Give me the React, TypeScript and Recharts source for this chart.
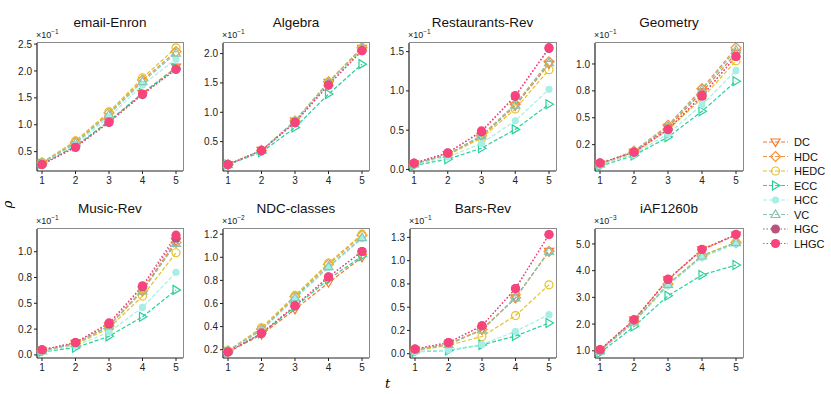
import React from "react";
import { LineChart, Line, XAxis, YAxis } from "recharts";

const steps = [1, 2, 3, 4, 5];
const seriesNames = ["DC", "HDC", "HEDC", "ECC", "HCC", "VC", "HGC", "LHGC"];

// values per series (rows in seriesNames order), already scaled by the panel's exponent
const emailEnron = [
  [0.28, 0.6, 1.06, 1.58, 2.07],
  [0.29, 0.68, 1.22, 1.83, 2.36],
  [0.3, 0.7, 1.24, 1.87, 2.43],
  [0.27, 0.6, 1.07, 1.59, 2.05],
  [0.28, 0.64, 1.14, 1.74, 2.22],
  [0.29, 0.66, 1.19, 1.8, 2.33],
  [0.26, 0.58, 1.04, 1.56, 2.03],
  [0.26, 0.58, 1.05, 1.57, 2.03],
];
const algebra = [
  [0.11, 0.35, 0.85, 1.51, 2.09],
  [0.11, 0.35, 0.85, 1.52, 2.1],
  [0.11, 0.35, 0.85, 1.51, 2.09],
  [0.11, 0.32, 0.74, 1.31, 1.82],
  [0.11, 0.34, 0.83, 1.48, 2.06],
  [0.11, 0.35, 0.85, 1.51, 2.1],
  [0.11, 0.35, 0.83, 1.47, 2.05],
  [0.11, 0.35, 0.82, 1.46, 2.05],
];
const restaurantsRev = [
  [0.07, 0.19, 0.42, 0.81, 1.34],
  [0.07, 0.19, 0.43, 0.83, 1.37],
  [0.07, 0.18, 0.4, 0.77, 1.27],
  [0.05, 0.13, 0.27, 0.51, 0.83],
  [0.06, 0.16, 0.33, 0.62, 1.02],
  [0.07, 0.19, 0.43, 0.82, 1.36],
  [0.08, 0.21, 0.48, 0.93, 1.54],
  [0.08, 0.21, 0.49, 0.94, 1.55],
];
const geometry = [
  [0.07, 0.18, 0.41, 0.74, 1.1],
  [0.07, 0.19, 0.43, 0.77, 1.15],
  [0.07, 0.17, 0.39, 0.68, 1.03],
  [0.05, 0.15, 0.32, 0.56, 0.84],
  [0.06, 0.16, 0.35, 0.62, 0.94],
  [0.07, 0.19, 0.42, 0.76, 1.13],
  [0.08, 0.18, 0.39, 0.7, 1.07],
  [0.08, 0.18, 0.39, 0.71, 1.07],
];
const musicRev = [
  [0.04, 0.11, 0.28, 0.63, 1.1],
  [0.04, 0.11, 0.28, 0.62, 1.09],
  [0.04, 0.1, 0.26, 0.57, 0.99],
  [0.03, 0.07, 0.18, 0.37, 0.63],
  [0.03, 0.09, 0.22, 0.46, 0.8],
  [0.04, 0.11, 0.28, 0.62, 1.08],
  [0.05, 0.12, 0.3, 0.66, 1.13],
  [0.05, 0.12, 0.31, 0.67, 1.16],
];
const ndcClasses = [
  [0.18, 0.33, 0.55, 0.78, 1.0],
  [0.19, 0.38, 0.66, 0.94, 1.19],
  [0.19, 0.39, 0.67, 0.95, 1.2],
  [0.18, 0.34, 0.57, 0.81, 1.01],
  [0.18, 0.37, 0.64, 0.91, 1.16],
  [0.19, 0.37, 0.65, 0.92, 1.17],
  [0.18, 0.34, 0.58, 0.83, 1.05],
  [0.18, 0.345, 0.58, 0.83, 1.05],
];
const barsRev = [
  [0.04, 0.1, 0.26, 0.6, 1.1],
  [0.04, 0.105, 0.26, 0.6, 1.1],
  [0.03, 0.09, 0.185, 0.41, 0.74],
  [0.02, 0.035, 0.095, 0.19, 0.33],
  [0.02, 0.04, 0.1, 0.24, 0.42],
  [0.04, 0.1, 0.255, 0.6, 1.1],
  [0.05, 0.12, 0.3, 0.7, 1.28],
  [0.05, 0.12, 0.3, 0.7, 1.28],
];
const iaf1260b = [
  [1.03, 2.15, 3.66, 4.78, 5.33],
  [1.02, 2.1, 3.5, 4.55, 5.05],
  [1.02, 2.1, 3.49, 4.57, 5.06],
  [0.92, 1.91, 3.06, 3.84, 4.21],
  [0.98, 2.05, 3.45, 4.5, 5.0],
  [1.0, 2.08, 3.49, 4.55, 5.05],
  [1.04, 2.16, 3.67, 4.79, 5.35],
  [1.04, 2.16, 3.68, 4.8, 5.36],
];

const enronTicks = [0.5, 1.0, 1.5, 2.0, 2.5];
const enronLabels = ["0.5", "1.0", "1.5", "2.0", "2.5"];
const algebraTicks = [0.5, 1.0, 1.5, 2.0];
const algebraLabels = ["0.5", "1.0", "1.5", "2.0"];
const restaurantsTicks = [0, 0.5, 1.0, 1.5];
const restaurantsLabels = ["0.0", "0.5", "1.0", "1.5"];
const geometryTicks = [0.25, 0.5, 0.75, 1.0];
const geometryLabels = ["0.2", "0.5", "0.8", "1.0"];
const musicTicks = [0, 0.25, 0.5, 0.75, 1.0];
const musicLabels = ["0.0", "0.2", "0.5", "0.8", "1.0"];
const ndcTicks = [0.2, 0.4, 0.6, 0.8, 1.0, 1.2];
const ndcLabels = ["0.2", "0.4", "0.6", "0.8", "1.0", "1.2"];
const barsTicks = [0, 0.25, 0.5, 0.75, 1.0, 1.25];
const barsLabels = ["0.0", "0.2", "0.5", "0.8", "1.0", "1.3"];
const iafTicks = [1, 2, 3, 4, 5];
const iafLabels = ["1.0", "2.0", "3.0", "4.0", "5.0"];

type MarkerKind = "triDown" | "diamond" | "ring" | "triRight" | "softDot" | "triUp" | "dot" | "bigDot";

const seriesStyle: Record<string, { color: string; dash: string; marker: MarkerKind }> = {
  DC: { color: "#f3792c", dash: "4 2", marker: "triDown" },
  HDC: { color: "#f5923c", dash: "4 2", marker: "diamond" },
  HEDC: { color: "#e4c12a", dash: "4 2", marker: "ring" },
  ECC: { color: "#2ccf9c", dash: "4 2", marker: "triRight" },
  HCC: { color: "#a6eee6", dash: "4 2", marker: "softDot" },
  VC: { color: "#86c6b6", dash: "4 2", marker: "triUp" },
  HGC: { color: "#b9527d", dash: "1.5 2", marker: "dot" },
  LHGC: { color: "#f8437d", dash: "1.5 2", marker: "bigDot" },
};

const panels = [
  { title: "email-Enron", values: emailEnron, ticks: enronTicks, labels: enronLabels, exp: "-1", domain: [0.14, 2.52], left: 37, right: 183, top: 43, bottom: 171 },
  { title: "Algebra", values: algebra, ticks: algebraTicks, labels: algebraLabels, exp: "-1", domain: [0.0, 2.18], left: 223, right: 369, top: 43, bottom: 171 },
  { title: "Restaurants-Rev", values: restaurantsRev, ticks: restaurantsTicks, labels: restaurantsLabels, exp: "-1", domain: [-0.02, 1.61], left: 409, right: 556, top: 43, bottom: 171 },
  { title: "Geometry", values: geometry, ticks: geometryTicks, labels: geometryLabels, exp: "-1", domain: [0.005, 1.195], left: 595, right: 743, top: 43, bottom: 171 },
  { title: "Music-Rev", values: musicRev, ticks: musicTicks, labels: musicLabels, exp: "-1", domain: [-0.03, 1.22], left: 37, right: 183, top: 229, bottom: 358 },
  { title: "NDC-classes", values: ndcClasses, ticks: ndcTicks, labels: ndcLabels, exp: "-2", domain: [0.128, 1.245], left: 223, right: 369, top: 229, bottom: 358 },
  { title: "Bars-Rev", values: barsRev, ticks: barsTicks, labels: barsLabels, exp: "-1", domain: [-0.046, 1.34], left: 410, right: 556, top: 229, bottom: 358 },
  { title: "iAF1260b", values: iaf1260b, ticks: iafTicks, labels: iafLabels, exp: "-3", domain: [0.73, 5.56], left: 595, right: 743, top: 229, bottom: 358 },
];

const FONT = "'Liberation Sans', Arial, Helvetica, sans-serif";

function Marker({ kind, cx, cy, color }: { kind: MarkerKind; cx: number; cy: number; color: string }) {
  const sw = 1.2;
  switch (kind) {
    case "triDown":
      return <polygon points={`${cx - 4.5},${cy - 3} ${cx + 4.5},${cy - 3} ${cx},${cy + 4.5}`} fill="none" stroke={color} strokeWidth={sw} />;
    case "diamond":
      return <polygon points={`${cx},${cy - 5} ${cx + 5},${cy} ${cx},${cy + 5} ${cx - 5},${cy}`} fill="none" stroke={color} strokeWidth={sw} />;
    case "ring":
      return <circle cx={cx} cy={cy} r={4} fill="none" stroke={color} strokeWidth={sw} />;
    case "triRight":
      return <polygon points={`${cx - 3},${cy - 4.5} ${cx + 4.5},${cy} ${cx - 3},${cy + 4.5}`} fill="none" stroke={color} strokeWidth={sw} />;
    case "softDot":
      return <circle cx={cx} cy={cy} r={3.6} fill={color} stroke="none" />;
    case "triUp":
      return <polygon points={`${cx - 4.5},${cy + 3} ${cx + 4.5},${cy + 3} ${cx},${cy - 4.5}`} fill="none" stroke={color} strokeWidth={sw} />;
    case "dot":
      return <circle cx={cx} cy={cy} r={4.5} fill={color} stroke="none" />;
    default:
      return <circle cx={cx} cy={cy} r={4.6} fill={color} stroke="none" />;
  }
}

const renderDot = (name: string) => (props: any) => {
  const { cx, cy, index } = props;
  const key = `${name}-${index}`;
  if (cx == null || cy == null) return <g key={key} />;
  return (
    <g key={key}>
      <Marker kind={seriesStyle[name].marker} cx={cx} cy={cy} color={seriesStyle[name].color} />
    </g>
  );
};

const Y_W = 36;
const X_H = 22;
const M_TOP = 4;
const M_RIGHT = 4;

function Panel({ p }: { p: (typeof panels)[number] }) {
  const rows = steps.map((t, i) => {
    const row: Record<string, number> = { t };
    seriesNames.forEach((name, s) => {
      row[name] = p.values[s][i];
    });
    return row;
  });
  const plotW = p.right - p.left;
  const plotH = p.bottom - p.top;
  const fmt = (v: number) => {
    const i = p.ticks.findIndex((x) => Math.abs(x - v) < 1e-9);
    return i >= 0 ? p.labels[i] : String(v);
  };
  return (
    <>
      <div
        style={{
          position: "absolute",
          left: p.left,
          width: plotW,
          top: p.top - 27,
          textAlign: "center",
          fontSize: 13.5,
          color: "#111",
          lineHeight: "14px",
        }}
      >
        {p.title}
      </div>
      <div style={{ position: "absolute", left: p.left - 1, top: p.top - 13, fontSize: 9, color: "#222", lineHeight: "10px" }}>
        ×10<sup style={{ fontSize: 6.5, verticalAlign: "top", position: "relative", top: -3 }}>{p.exp.replace("-", "−")}</sup>
      </div>
      <div style={{ position: "absolute", left: p.left - Y_W, top: p.top - M_TOP }}>
        <LineChart
          width={plotW + Y_W + M_RIGHT}
          height={plotH + M_TOP + X_H}
          data={rows}
          margin={{ top: M_TOP, right: M_RIGHT, bottom: 0, left: 0 }}
        >
          <XAxis
            dataKey="t"
            type="number"
            domain={[1, 5]}
            ticks={steps}
            padding={{ left: 5, right: 7 }}
            height={X_H}
            tickSize={3}
            tickMargin={3}
            axisLine={{ stroke: "#222", strokeWidth: 1.2 }}
            tickLine={{ stroke: "#222" }}
            tick={{ fontSize: 10, fill: "#222", fontFamily: FONT }}
          />
          <YAxis
            type="number"
            domain={p.domain}
            allowDataOverflow
            ticks={p.ticks}
            tickFormatter={fmt}
            width={Y_W}
            tickSize={3}
            tickMargin={2}
            axisLine={{ stroke: "#222", strokeWidth: 1.2 }}
            tickLine={{ stroke: "#222" }}
            tick={{ fontSize: 10, fill: "#222", fontFamily: FONT }}
          />
          {seriesNames.map((name) => (
            <Line
              key={name}
              type="linear"
              dataKey={name}
              stroke={seriesStyle[name].color}
              strokeWidth={1.2}
              strokeDasharray={seriesStyle[name].dash}
              dot={renderDot(name)}
              activeDot={false}
              isAnimationActive={false}
            />
          ))}
        </LineChart>
      </div>
      <div
        style={{
          position: "absolute",
          left: p.left,
          top: p.top - 1,
          width: plotW + 1,
          height: plotH + 1,
          boxSizing: "border-box",
          borderTop: "1.6px solid #8a8a8a",
          borderRight: "1.6px solid #8a8a8a",
          pointerEvents: "none",
        }}
      />
    </>
  );
}

function Legend() {
  return (
    <svg style={{ position: "absolute", left: 755, top: 130 }} width={76} height={125}>
      {seriesNames.map((name, i) => {
        const y = 12 + i * 14.5;
        const st = seriesStyle[name];
        return (
          <g key={name}>
            <line x1={8} x2={33} y1={y} y2={y} stroke={st.color} strokeWidth={1.2} strokeDasharray={st.dash} />
            <Marker kind={st.marker} cx={20.5} cy={y} color={st.color} />
            <text x={39} y={y + 4} fontSize={11} fill="#111" fontFamily={FONT}>
              {name}
            </text>
          </g>
        );
      })}
    </svg>
  );
}

export default function App() {
  return (
    <div style={{ position: "absolute", left: 0, top: 0, width: 831, height: 394, background: "#fff", fontFamily: FONT, overflow: "hidden" }}>
      {panels.map((p) => (
        <Panel key={p.title} p={p} />
      ))}
      <Legend />
      <div
        style={{
          position: "absolute",
          left: 4,
          top: 197,
          fontFamily: "'DejaVu Serif', serif",
          fontStyle: "italic",
          fontSize: 13,
          transform: "rotate(-90deg)",
        }}
      >
        ρ
      </div>
      <div style={{ position: "absolute", left: 385, top: 376, fontFamily: "'DejaVu Serif', serif", fontStyle: "italic", fontSize: 13 }}>t</div>
    </div>
  );
}
